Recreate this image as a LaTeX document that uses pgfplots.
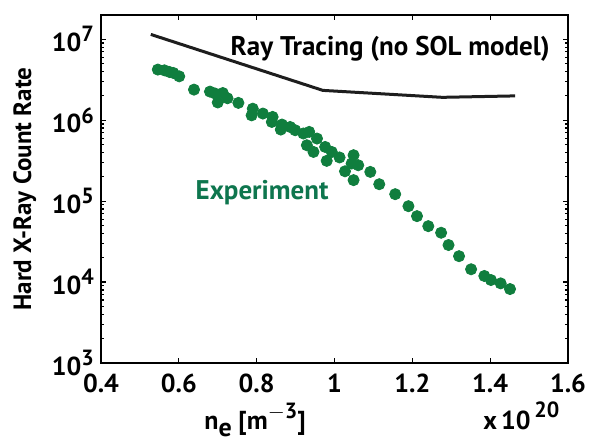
\documentclass[border=0pt]{standalone}
\usepackage{fontspec}
\setmainfont{PT Sans}
\usepackage{pgfplots}
\pgfplotsset{compat=1.18}
\definecolor{expgreen}{RGB}{16,126,62}
\definecolor{exptext}{RGB}{14,118,78}
\definecolor{raycol}{RGB}{30,30,30}
\newcommand{\tenp}[1]{10\raisebox{0.75ex}{\fontsize{11}{11}\selectfont #1}}
\begin{document}
\begin{tikzpicture}
\path[use as bounding box] (-50.5pt,-40.5pt) rectangle (244.5pt,181.5pt);
\begin{axis}[
  scale only axis, width=233.5pt, height=174pt,
  xmin=0.4, xmax=1.6, ymode=log, ymin=1e3, ymax=2e7,
  xtick={0.4,0.6,0.8,1,1.2,1.4,1.6},
  xticklabels={0.4,0.6,0.8,1,1.2,1.4,1.6},
  ytick={1e3,1e4,1e5,1e6,1e7},
  yticklabels={\tenp{3},\tenp{4},\tenp{5},\tenp{6},\tenp{7}},
  ticklabel style={font=\fontsize{13}{15}\selectfont\bfseries},
  xticklabel style={yshift=-2pt},
  axis line style={line width=1.3pt, black},
  major tick length=2.5pt, minor tick length=1.5pt,
  every tick/.style={black, line width=0.6pt},
  clip=false,
  ylabel={Hard X-Ray Count Rate},
  ylabel style={font=\fontsize{12.5}{14}\selectfont\bfseries, at={(axis description cs:-0.163,0.5)}, anchor=center},
]
\addplot[raycol, line width=1.5pt] coordinates {
(0.528,1.15e7) (0.970,2.34e6) (1.277,1.92e6) (1.464,2.0e6)};
\addplot[only marks, mark=*, mark size=2.8pt, color=expgreen, mark options={fill=expgreen, draw=expgreen}] coordinates {
(0.546,4.23e6) (0.563,4.14e6) (0.576,3.95e6) (0.586,3.84e6) (0.601,3.49e6)
(0.639,2.39e6) (0.680,2.26e6) (0.693,2.14e6) (0.713,2.17e6) (0.725,1.87e6)
(0.700,1.66e6) (0.753,1.64e6) (0.790,1.39e6) (0.787,1.15e6) (0.816,1.21e6)
(0.841,1.10e6) (0.839,9.53e5) (0.865,8.85e5) (0.862,7.67e5) (0.886,8.26e5)
(0.899,7.53e5) (0.920,6.86e5) (0.935,7.18e5) (0.955,5.94e5) (0.929,4.91e5)
(0.946,4.06e5) (0.976,4.68e5) (0.993,4.06e5) (0.980,3.15e5) (1.013,3.47e5)
(1.049,3.70e5) (1.044,2.92e5) (1.061,2.78e5) (1.027,2.34e5) (1.049,1.82e5)
(1.092,2.30e5) (1.115,1.62e5) (1.156,1.22e5) (1.190,8.67e4) (1.212,6.53e4)
(1.241,4.91e4) (1.274,4.07e4) (1.293,2.87e4) (1.320,2.09e4) (1.351,1.44e4)
(1.385,1.19e4) (1.402,1.06e4) (1.427,9.64e3) (1.451,8.20e3)};
\node[font=\fontsize{13.5}{15}\selectfont\bfseries, text=black] at (axis cs:1.143,7.6e6) {Ray Tracing (no SOL model)};
\node[font=\fontsize{13.5}{15}\selectfont\bfseries, text=exptext] at (axis cs:0.814,1.26e5) {Experiment};
\node[font=\fontsize{13}{15}\selectfont\bfseries, anchor=base] at (rel axis cs:0.33,-0.19) {n\raisebox{-0.6ex}{e} [m\raisebox{0.8ex}{\fontsize{11}{11}\selectfont $-$3}]};
\node[font=\fontsize{13}{15}\selectfont\bfseries, anchor=base] at (rel axis cs:0.90,-0.19) {x\,10\raisebox{0.9ex}{\fontsize{11}{11}\selectfont\,20}};
\end{axis}
\end{tikzpicture}
\end{document}
